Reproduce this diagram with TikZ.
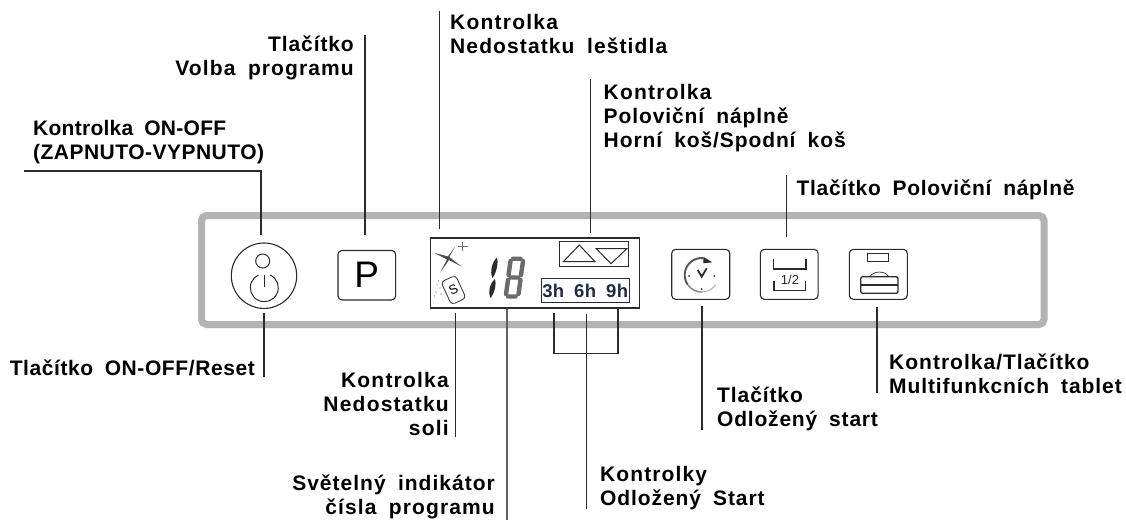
\documentclass[tikz,border=0pt]{standalone}
\usepackage{fontspec}
\setmainfont[WordSpace=1.8]{Liberation Sans}
\usetikzlibrary{calc}
\definecolor{framegray}{HTML}{B3B3B3}
\definecolor{ink}{HTML}{2B2B2B}
\definecolor{digitblue}{HTML}{1F2A44}
\newcommand{\lin}[2]{{\addfontfeature{LetterSpace=#1}\rule[-7pt]{0pt}{17pt}#2}}
\tikzset{
  lab/.style={inner sep=0pt,font=\bfseries\fontsize{21}{24}\selectfont,text=black},
  labl/.style={lab,anchor=north west,align=left},
  labr/.style={lab,anchor=north east,align=right},
  leader/.style={draw=ink,line width=1.1pt},
  btn/.style={draw=ink,line width=1.1pt,rounded corners=4pt},
  sym/.style={draw=ink,line width=1pt},
}
\begin{document}
\begin{tikzpicture}[x=1pt,y=-1pt]
\useasboundingbox (0,0) rectangle (1126,520);
\fill[white] (0,0) rectangle (1126,520);
% frame
\draw[framegray,line width=7pt,rounded corners=5pt] (201.5,215.5) rectangle (1044,324.5);
% power button
\node[circle,draw=ink,line width=1.1pt,minimum size=65.4pt,inner sep=0pt] (power) at (264,275.7) {};
\node[circle,sym,minimum size=14pt,inner sep=0pt] (lamp) at (262.7,261) {};
\draw[sym] (264.3,287.7) ++(65:14pt) arc[start angle=65,end angle=-245,radius=14pt];
\draw[sym] (264,275) -- (264,287);
% P button
\node[btn,minimum width=57.7pt,minimum height=49.5pt,inner sep=0pt,font=\fontsize{37}{37}\selectfont] (pbtn) at (366.8,275.2) {P};
% display
\node[draw=ink,line width=1.2pt,minimum width=208.6pt,minimum height=70pt,inner sep=0pt] (disp) at (535,273) {};
\node[draw=ink,line width=1pt,minimum width=69.4pt,minimum height=24.6pt,inner sep=0pt] (tribox) at (594,254) {};
\draw[sym] (563.3,261.7) -- (579.3,245) -- (595,261.7) -- cycle;
\draw[sym] (596.3,248.7) -- (626.7,248.7) -- (611,263.7) -- cycle;
\node[draw=ink,line width=1pt,minimum width=88.3pt,minimum height=24.3pt,inner sep=0pt,text=digitblue,font=\bfseries\fontsize{18.5}{18.5}\selectfont] (hours) at (585.2,290.8) {\addfontfeature{LetterSpace=2}3h 6h 9h};
% star
\fill[ink!85] (455,246.7) -- (449.3,257) -- (461.7,266.7) -- (449,260) -- (440,272.7) -- (447,259.5) -- (434,252.7) -- (448,256.5) -- cycle;
\draw[ink!70,line width=.5pt] (462.7,241.5) -- (462.7,250.5) (458,246) -- (467.5,246);
% salt
\node[draw=ink!90,line width=.9pt,rounded corners=3.5pt,minimum width=16pt,minimum height=25pt,inner sep=0pt,rotate=25,font=\fontsize{13}{13}\selectfont] (salt) at (453.5,290) {S};
\fill[ink!70] (438.5,281) circle (.6pt) (437,285) circle (.6pt) (440,288) circle (.6pt) (436,292) circle (.6pt) (441,294) circle (.6pt) (434.5,296) circle (.6pt);
% digits
\fill[ink] (496.8,257.7) .. controls (499,262) and (496,274) .. (492.5,278) .. controls (489.5,272) and (492,262) .. (496.8,257.7) -- cycle;
\fill[ink] (494.8,279) .. controls (497,284) and (494,294) .. (490.5,298) .. controls (487.5,292) and (490,283) .. (494.8,279) -- cycle;
\draw[ink!70,line width=4.4pt,line cap=round] (513,258.7) -- (520.5,258.7)
  (523,261) -- (521,275) (510.5,261) -- (508.5,275)
  (511,277.5) -- (518,277.5)
  (520.5,280) -- (518.5,294) (508,280) -- (506,294)
  (508,296.5) -- (515.5,296.5);
% clock button
\node[btn,minimum width=58pt,minimum height=50pt,inner sep=0pt] (clock) at (700.7,274.3) {};
\draw[ink!80,line width=1.9pt] (701.7,275) ++(85:17pt) arc[start angle=85,end angle=215,radius=17pt];
\draw[ink!60,line width=1.4pt] (701.7,275) ++(215:17pt) arc[start angle=215,end angle=270,radius=17pt];
\draw[ink!35,line width=1pt] (701.7,275) ++(270:17pt) arc[start angle=270,end angle=325,radius=17pt];
\fill[ink] (703.3,256.8) -- (712.3,262.3) -- (703.3,263.3) -- cycle;
\draw[ink,line width=1.8pt] (697.7,270) -- (701.7,276.7) -- (706.7,268.3);
\fill[ink] (689,276) circle (1pt) (714.3,276) circle (1pt) (701.7,289) circle (1pt);
% half-load button
\node[btn,minimum width=57.7pt,minimum height=50pt,inner sep=0pt] (half) at (789.2,274.3) {};
\draw[ink,line width=1.4pt] (773.3,259.3) -- (773.3,269) -- (806,269) -- (806,259.3);
\draw[ink,line width=1.4pt] (774,281) -- (774,290.7) -- (805.7,290.7) -- (805.7,281);
\node[inner sep=0pt,font=\fontsize{13}{13}\selectfont,text=ink] (halft) at (790,279.5) {1/2};
% tablet button
\node[btn,minimum width=58pt,minimum height=50pt,inner sep=0pt] (tablet) at (878.3,274.3) {};
\node[draw=ink,line width=.9pt,minimum width=21.4pt,minimum height=8.4pt,inner sep=0pt] (tabrect) at (878,257.5) {};
\draw[ink,line width=1.3pt,rounded corners=2pt] (860.7,276.7) rectangle (898,293.3);
\draw[ink,line width=1.1pt] (860.7,285) -- (898,285);
\draw[ink,line width=.7pt] (870,276.7) .. controls (873,270.5) and (885.5,270.5) .. (888.7,276.7);
% labels
\node[labl] (l1) at (33,120) {\lin{1.3}{Kontrolka ON-OFF}\\\lin{2.3}{(ZAPNUTO-VYPNUTO)}};
\node[labr] (l2) at (255,360) {\lin{2.8}{Tlačítko ON-OFF/Reset}};
\node[labr] (l3) at (354,36) {\lin{4.3}{Tlačítko}\\\lin{5.3}{Volba programu}};
\node[labl] (l4) at (450,14) {\lin{5.8}{Kontrolka}\\\lin{5.3}{Nedostatku leštidla}};
\node[labl] (l5) at (603.5,83.7) {\lin{5.8}{Kontrolka}\\\lin{4.3}{Poloviční náplně}\\\lin{4.3}{Horní koš/Spodní koš}};
\node[labl] (l6) at (796.5,179.7) {\lin{3.3}{Tlačítko Poloviční náplně}};
\node[labr] (l7) at (449,372) {\lin{5.8}{Kontrolka}\\\lin{5.8}{Nedostatku}\\\lin{5.8}{soli}};
\node[labr] (l8) at (495,475) {\lin{4.8}{Světelný indikátor}\\\lin{5.3}{čísla programu}};
\node[labl] (l9) at (600,466) {\lin{5.3}{Kontrolky}\\\lin{4.3}{Odložený Start}};
\node[labl] (l10) at (717,387) {\lin{4.3}{Tlačítko}\\\lin{3.8}{Odložený start}};
\node[labl] (l11) at (889,353.7) {\lin{4.8}{Kontrolka/Tlačítko}\\\lin{4.3}{Multifunkcních tablet}};
% leader end points
\coordinate (a0) at (24,171);
\coordinate (a1) at (261,171);
\coordinate (a2) at (261,235);
\coordinate (b1) at (264,313);
\coordinate (b2) at (264,377);
\coordinate (c1) at (365,35);
\coordinate (c2) at (365,235);
\coordinate (d1) at (439.5,11);
\coordinate (d2) at (439.5,229);
\coordinate (e1) at (590.7,79);
\coordinate (e2) at (590.7,233);
\coordinate (f1) at (786.5,175);
\coordinate (f2) at (786.5,237);
\coordinate (g1) at (455.3,313);
\coordinate (g2) at (455.3,437);
\coordinate (h1) at (507,309);
\coordinate (h2) at (507,520);
\coordinate (i1) at (554,313);
\coordinate (i2) at (554,353.3);
\coordinate (i3) at (618,353.3);
\coordinate (i4) at (618,309);
\coordinate (j1) at (586.3,314);
\coordinate (j2) at (586.3,509);
\coordinate (k1) at (702,305.7);
\coordinate (k2) at (702,430);
\coordinate (m1) at (877,307);
\coordinate (m2) at (877,392.7);
\draw[leader] (a0) -- (a1) -- (a2);
\draw[leader] (b1) -- (b2);
\draw[leader] (c1) -- (c2);
\draw[leader] (d1) -- (d2);
\draw[leader] (e1) -- (e2);
\draw[leader] (f1) -- (f2);
\draw[leader] (g1) -- (g2);
\draw[leader,draw=ink!75,line width=1.8pt] (h1) -- (h2);
\draw[leader] (i1) -- (i2) -- (i3) -- (i4);
\draw[leader] (j1) -- (j2);
\draw[leader] (k1) -- (k2);
\draw[leader] (m1) -- (m2);
\end{tikzpicture}
\end{document}
